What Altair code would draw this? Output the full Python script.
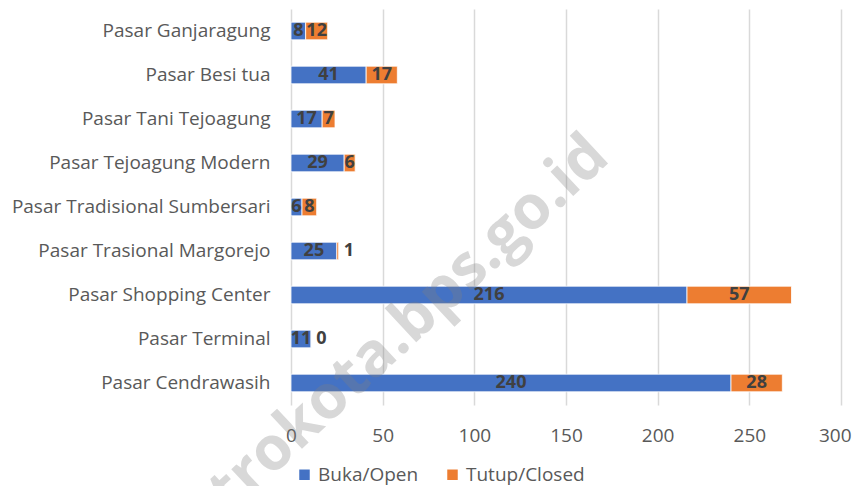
import altair as alt
import pandas as pd

pasar = [
    "Pasar Ganjaragung",
    "Pasar Besi tua",
    "Pasar Tani Tejoagung",
    "Pasar Tejoagung Modern",
    "Pasar Tradisional Sumbersari",
    "Pasar Trasional Margorejo",
    "Pasar Shopping Center",
    "Pasar Terminal",
    "Pasar Cendrawasih",
]
buka = [8, 41, 17, 29, 6, 25, 216, 11, 240]
tutup = [12, 17, 7, 6, 8, 1, 57, 0, 28]
series = ["Buka/Open", "Tutup/Closed"]
colors = ["#4472C4", "#ED7D31"]
x_ticks = [0, 50, 100, 150, 200, 250, 300]
watermark_text = ["metrokota.bps.go.id"]

rows = []
for p, b, t in zip(pasar, buka, tutup):
    rows.append({"pasar": p, "status": series[0], "value": b, "ord": 0})
    rows.append({"pasar": p, "status": series[1], "value": t, "ord": 1})
df = pd.DataFrame(rows)

FONT = "Open Sans"

base = alt.Chart(df).transform_stack(
    stack="value", groupby=["pasar"], as_=["x0", "x1"], sort=[alt.SortField("ord")]
).transform_calculate(mid="(datum.x0 + datum.x1) / 2")

y_enc = alt.Y(
    "pasar:N",
    sort=pasar,
    title=None,
    scale=alt.Scale(paddingInner=0.6, paddingOuter=0.3),
    axis=alt.Axis(
        domain=False, ticks=False, grid=False, labelFont=FONT, labelFontSize=19,
        labelColor="#595959", labelPadding=21, labelLimit=400,
    ),
)

last_tick = "datum.value == %d" % x_ticks[-1]

bars = base.mark_bar(stroke="white", strokeWidth=0.8).encode(
    y=y_enc,
    x=alt.X(
        "x0:Q",
        title=None,
        scale=alt.Scale(domain=[0, 300], nice=False),
        axis=alt.Axis(
            values=x_ticks, domain=False, ticks=False, grid=True, labelFlush=False,
            gridColor="#d9d9d9", gridWidth=1.5, labelFont=FONT, labelFontSize=19,
            labelColor="#595959", labelPadding=21,
            labelAlign={"condition": {"test": last_tick, "value": "right"}, "value": "center"},
            labelOffset={"condition": {"test": last_tick, "value": 10}, "value": 0},
        ),
    ),
    x2="x1:Q",
    color=alt.Color(
        "status:N",
        scale=alt.Scale(domain=series, range=colors),
        legend=alt.Legend(
            title=None, orient="none", direction="horizontal", legendX=4, legendY=456,
            symbolType="square", symbolSize=110, symbolStrokeWidth=0,
            labelFont=FONT, labelFontSize=19, labelColor="#595959",
            columnPadding=24, labelOffset=4,
        ),
    ),
    order=alt.Order("ord:Q"),
)

labels_in = base.transform_filter("datum.value > 1").mark_text(
    font=FONT, fontSize=18, fontWeight="bold", color="#404040", baseline="middle"
).encode(
    y=alt.Y("pasar:N", sort=pasar),
    x=alt.X("mid:Q"),
    text=alt.Text("value:Q"),
)

labels_out = base.transform_filter("datum.value <= 1").mark_text(
    font=FONT, fontSize=18, fontWeight="bold", color="#404040", baseline="middle",
    align="left", dx=5,
).encode(
    y=alt.Y("pasar:N", sort=pasar),
    x=alt.X("x1:Q"),
    text=alt.Text("value:Q"),
)

watermark = alt.Chart(pd.DataFrame({"t": watermark_text})).mark_text(
    font="Open Sans", fontSize=61, fontWeight="bold", color="#808080", opacity=0.3,
    angle=317, align="center", baseline="middle",
).encode(text="t:N", x=alt.value(83), y=alt.value(348))

chart = alt.layer(bars, labels_in, labels_out, watermark).properties(
    width=550,
    height=396,
    padding={"left": 283, "top": 1, "right": 11, "bottom": 81},
    autosize=alt.AutoSizeParams(type="none"),
).configure_view(stroke=None)

chart.save("out.html", embed_options={"renderer": "svg", "actions": False})
